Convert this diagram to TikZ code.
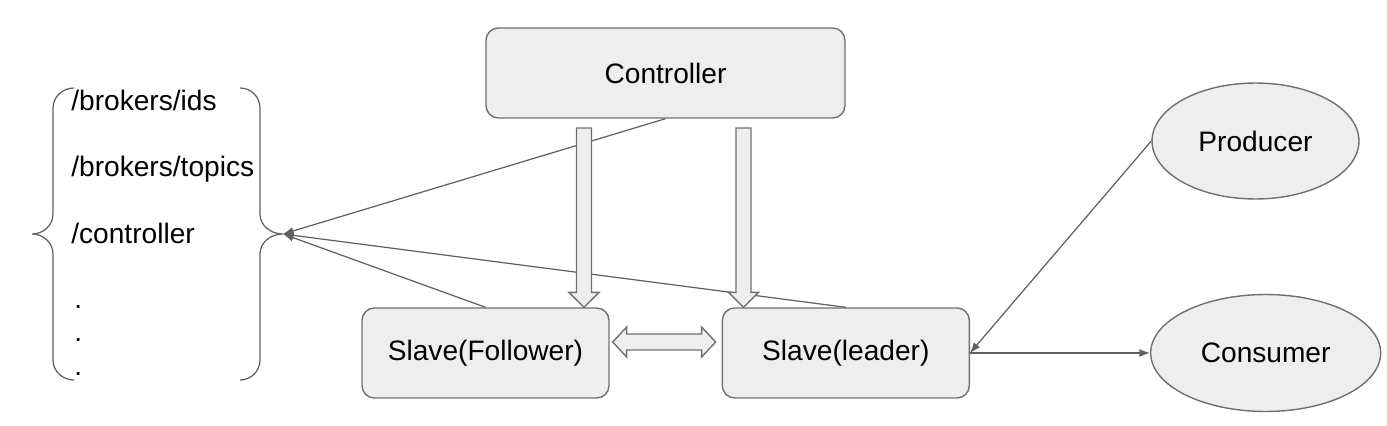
\documentclass[tikz,border=0pt]{standalone}
\usepackage{fontspec}
\setmainfont{Liberation Sans}
\usetikzlibrary{positioning,shapes.geometric,calc,arrows.meta}
\definecolor{boxfill}{RGB}{238,238,238}
\definecolor{boxline}{RGB}{112,112,112}
\definecolor{wire}{RGB}{96,96,96}

% hollow push arrow, straight down from #1 to #2
\newcommand{\pusharrow}[2]{%
    \draw[hollow] ($(#1)+(-7.5,0)$) -- ($(#2)+(-7.5,-15)$) -- ($(#2)+(-15,-15)$) -- (#2)
        -- ($(#2)+(15,-15)$) -- ($(#2)+(7.5,-15)$) -- ($(#1)+(7.5,0)$) -- cycle;}

\begin{document}
\begin{tikzpicture}[x=0.02cm, y=-0.02cm, node distance=2.24cm,
    font=\fontsize{16}{19}\selectfont]
    \tikzstyle{block} = [rectangle, draw=boxline, fill=boxfill, rounded corners=7pt,
        minimum width=4.94cm, minimum height=1.8cm, line width=0.8pt]
    \tikzstyle{client} = [ellipse, draw=boxline, fill=boxfill, line width=0.8pt]
    \tikzstyle{hollow} = [draw=boxline, fill=boxfill, line width=0.8pt, line join=miter]
    \tikzstyle{arrow} = [draw=wire, line width=0.7pt, -{Latex[length=6pt,width=4.5pt]}]
    \tikzstyle{brace} = [draw=wire, line width=0.7pt]
    \tikzstyle{zpath} = [anchor=base west, inner sep=0pt]

    \useasboundingbox (0,0) rectangle (1387,426);

    \node [block, minimum width=7.18cm] (ctrl) at (665.5,73) {Controller};
    \node [block] (fol) at (485.5,353) {Slave(Follower)};
    \node [block, right=of fol] (lead) {Slave(leader)};
    \node [client, minimum width=4.14cm, minimum height=2.32cm] (prod) at (1255.5,141) {Producer};
    \node [client, minimum width=4.6cm, minimum height=2.34cm, right=3.6cm of lead] (cons) {Consumer};

    % zookeeper paths
    \node [zpath] (ids) at (71,110) {/brokers/ids};
    \node [zpath] (topics) at (71,176) {/brokers/topics};
    \node [zpath] (ctl) at (71,243) {/controller};
    \node [zpath] (d1) at (74,308) {.};
    \node [zpath] (d2) at (74,341) {.};
    \node [zpath] (d3) at (74,375) {.};

    \coordinate (tip) at (283,234);
    \draw [brace] (74,88) to[out=180,in=90] (53,108) -- (53,214) to[out=-90,in=0] (32,234)
        to[out=0,in=90] (53,254) -- (53,360) to[out=-90,in=180] (74,380);
    \draw [brace] (240,88) to[out=0,in=90] (260,108) -- (260,214) to[out=-90,in=180] (tip)
        to[out=180,in=90] (260,254) -- (260,360) to[out=-90,in=0] (240,380);

    \draw [arrow] (ctrl.south) -- (tip);
    \draw [arrow] (fol.north) -- (tip);
    \draw [arrow] (lead.north) -- (tip);

    \coordinate (pushL) at (584,128);
    \coordinate (pushR) at (743.5,128);
    \coordinate (pushLend) at (pushL |- fol.north);
    \coordinate (pushRend) at (pushR |- lead.north);
    \pusharrow{pushL}{pushLend}
    \pusharrow{pushR}{pushRend}

    \coordinate (swL) at ($(fol.east)+(3,-11)$);
    \coordinate (swR) at ($(lead.west)+(-6,-11)$);
    \draw [hollow] (swL) -- ++(14,-15) -- ++(0,7) -- ($(swR)+(-14,-8)$) -- ++(0,-7) -- (swR)
        -- ++(-14,15) -- ++(0,-7) -- ($(swL)+(14,8)$) -- ++(0,7) -- cycle;

    \draw [arrow] (prod.west) -- (lead.east);
    \draw [arrow] (lead.east) -- (cons.west);
\end{tikzpicture}
\end{document}
